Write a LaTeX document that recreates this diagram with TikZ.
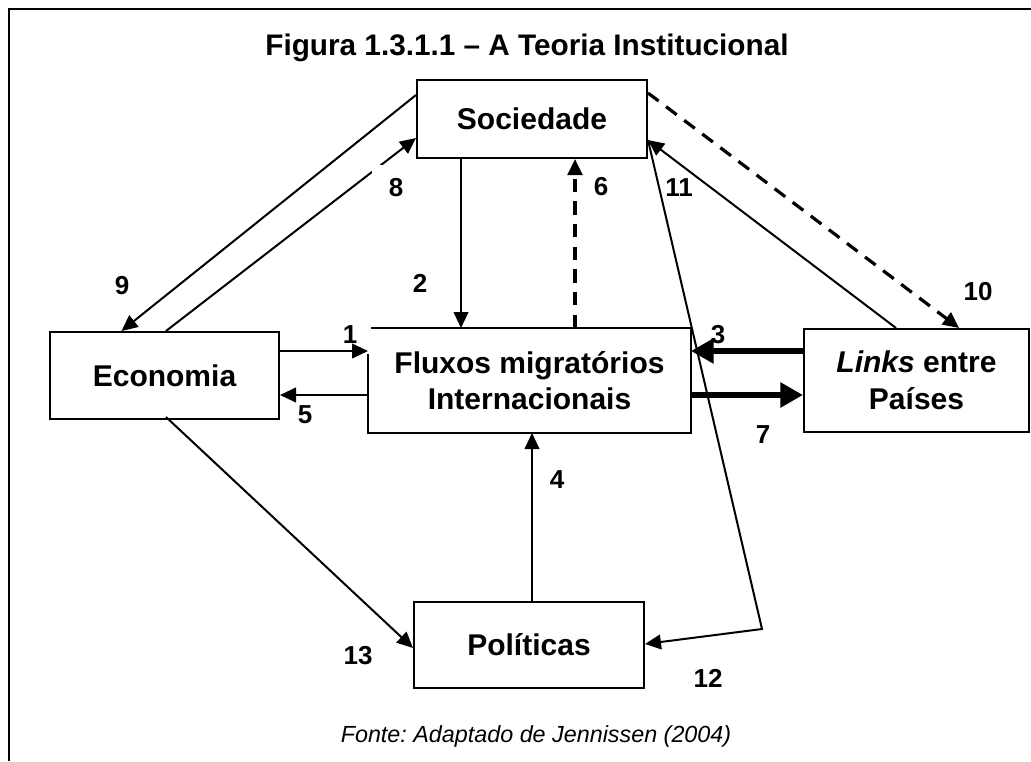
\documentclass[tikz,border=0pt]{standalone}
\usepackage{fontspec}
\setmainfont{Liberation Sans}
\usepackage{tikz}
\usetikzlibrary{positioning,calc}
\usetikzlibrary{arrows.meta}
\frenchspacing
\newcommand\boxfont{\fontsize{22.5}{27.5}\selectfont\bfseries}
\newcommand\numfont{\fontsize{19.5}{21}\selectfont\bfseries}
\newcommand\titlefont{\fontsize{22.3}{26}\selectfont\bfseries}
\newcommand\srcfont{\fontsize{17.5}{20}\selectfont\itshape}
\tikzstyle{box} = [draw, line width=1.5pt, align=center, font=\boxfont, inner sep=0pt]
\tikzstyle{arr} = [-{Triangle[length=12pt,width=11pt]}, line width=1.5pt]
\tikzstyle{fat} = [-{Triangle[length=17pt,width=18pt]}, line width=5pt]
\tikzstyle{dsh} = [arr, line width=2.4pt, dash pattern=on 10pt off 7pt]
\tikzstyle{num} = [font=\numfont, inner sep=1pt]

\begin{document}
\begin{tikzpicture}[x=0.75pt, y=-0.75pt]
\useasboundingbox (0,0) rectangle (1031,761);

% frame and title
\draw[line width=1.6pt] (9,761) -- (9,9) -- (1031,9);
\node[font=\titlefont, anchor=base] (title) at (527,55) {Figura 1.3.1.1 – A Teoria Institucional};

% boxes
\node[box, minimum width=172.5pt, minimum height=58.5pt] (soc) at (532,119) {Sociedade};
\node[box, minimum width=171.75pt, minimum height=65.25pt] (eco) at (164.5,375.5) {Economia};
\node[box, draw=none, minimum width=240.75pt, minimum height=77.25pt] (fl) at (529.5,380.5) {Fluxos migratórios\\Internacionais};
\draw[line width=1.5pt] ([xshift=2.25pt]fl.north west) -- (fl.north east) -- (fl.south east) -- (fl.south west) -- ([yshift=-19.5pt]fl.north west);
\node[box, minimum width=168.75pt, minimum height=77.25pt] (lk) at (916.5,380.5) {\textit{Links} entre\\Países};
\node[box, minimum width=172.5pt, minimum height=64.5pt] (pol) at (529,645) {Políticas};

% rows and columns of the straight arrows
\coordinate (r1) at (0,351);
\coordinate (r5) at (0,395);
\coordinate (c2) at (461,0);
\coordinate (c6) at (575,0);
\coordinate (c4) at (532,0);
\coordinate (k12) at (762,629);

% connectors
\draw[arr] (eco.east |- r1) -- (fl.west |- r1);
\draw[arr] (fl.west |- r5) -- (eco.east |- r5);
\draw[arr] (soc.south -| c2) -- (fl.north -| c2);
\draw[dsh] (fl.north -| c6) -- (soc.south -| c6);
\draw[arr] (pol.north -| c4) -- (fl.south -| c4);
\draw[fat] (lk.west |- r1) -- (fl.east |- r1);
\draw[fat] (fl.east |- r5) -- (lk.west |- r5);
\draw[arr] ($(eco.north)+(1.5,0)$) -- ($(soc.west)+(0,19)$);
\draw[arr] ($(soc.west)+(0,-24)$) -- ($(eco.north)+(-43,0)$);
\draw[dsh] ($(soc.east)+(0,-26)$) -- ($(lk.north)+(42.5,0)$);
\draw[arr] ($(lk.north)+(-20.5,0)$) -- ($(soc.east)+(0,21)$);
\draw[arr] ($(soc.east)+(0,21)$) -- (k12) -- ($(pol.east)+(0,-1)$);
\draw[arr] ($(eco.south)+(1.5,-3)$) -- ($(pol.west)+(0,3)$);

% numbers
\node[num] (n1) at (350,335) {1};
\node[num] (n2) at (420,283) {2};
\node[num] (n3) at (718,335) {3};
\node[num] (n4) at (557,480) {4};
\node[num] (n5) at (305,415) {5};
\node[num] (n6) at (601,187) {6};
\node[num] (n7) at (763,435) {7};
\node[num, fill=white, minimum width=36pt, minimum height=34pt] (n8) at (396,188) {8};
\node[num] (n9) at (122,286) {9};
\node[num] (n10) at (978,292) {10};
\node[num] (n11) at (679,188) {11};
\node[num] (n12) at (708,678) {12};
\node[num] (n13) at (358,656) {13};

% source
\node[font=\srcfont, anchor=base] (src) at (536,742) {Fonte: Adaptado de Jennissen (2004)};
\end{tikzpicture}
\end{document}
